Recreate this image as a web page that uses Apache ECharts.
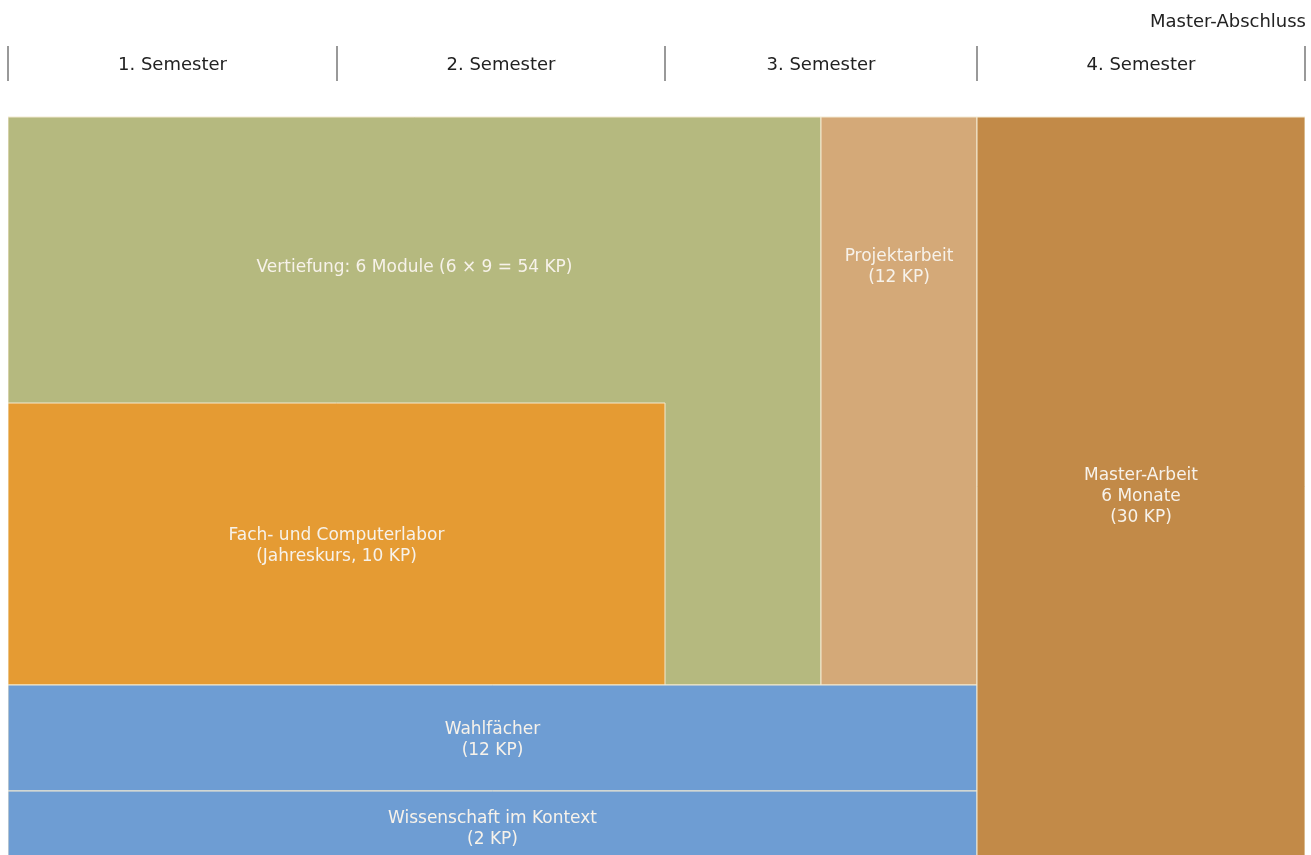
<!DOCTYPE html>
<html>
<head>
<meta charset="utf-8">
<title>Master Studienplan</title>
<script src="https://cdn.jsdelivr.net/npm/echarts@6/dist/echarts.min.js"></script>
<style>
  html, body { margin: 0; padding: 0; background: #fff; }
  #main { width: 1311px; height: 855px; }
</style>
</head>
<body>
<div id="main"></div>
<script>
// Semester (Kopfzeile)
var semesterNames = ['1. Semester', '2. Semester', '3. Semester', '4. Semester'];
var semesterEdges = [0, 329, 657, 969, 1297];
var endLabel = 'Master-Abschluss';

// Bloecke
var blockNames = [
  'Vertiefung: 6 Module (6 × 9 = 54 KP)',
  'Fach- und Computerlabor\n(Jahreskurs, 10 KP)',
  'Projektarbeit\n(12 KP)',
  'Wahlfächer\n(12 KP)',
  'Wissenschaft im Kontext\n(2 KP)',
  'Master-Arbeit\n6 Monate\n(30 KP)'
];
var blockX0 = [0, 0, 813, 0, 0, 969];
var blockX1 = [813, 657, 969, 969, 969, 1297];
var blockY0 = [0, 286, 0, 568, 674, 0];
var blockY1 = [568, 568, 568, 674, 755, 755];
var blockLabelY = [151, 429, 150, 623, 712, 380];
var blockColors = ['#b5b97f', '#e59b33', '#d4a978', '#6e9dd3', '#6e9dd3', '#c28a48'];

var FONT = '"DejaVu Sans", "Open Sans", sans-serif';

var myChart = echarts.init(document.getElementById('main'));

var blockData = [];
for (var i = 0; i < blockNames.length; i++) {
  blockData.push([blockX0[i], blockX1[i], blockY0[i], blockY1[i], blockLabelY[i], i]);
}

var edgeData = semesterEdges.map(function (x) { return [x]; });
var semData = semesterNames.map(function (n, i) {
  return [(semesterEdges[i] + semesterEdges[i + 1]) / 2, i];
});

var option = {
  animation: false,
  grid: { left: 8, right: 6, top: 0, bottom: 0 },
  xAxis: { type: 'value', min: 0, max: 1297, show: false },
  yAxis: { type: 'value', inverse: true, min: -117, max: 738, show: false },
  series: [
    {
      type: 'custom',
      clip: true,
      data: blockData,
      renderItem: function (params, api) {
        var idx = api.value(5);
        var p0 = api.coord([api.value(0), api.value(2)]);
        var p1 = api.coord([api.value(1), api.value(3)]);
        var pl = api.coord([(api.value(0) + api.value(1)) / 2, api.value(4)]);
        return {
          type: 'group',
          children: [
            {
              type: 'rect',
              shape: { x: p0[0], y: p0[1], width: p1[0] - p0[0], height: p1[1] - p0[1] },
              style: { fill: blockColors[idx], stroke: '#f3ead2', lineWidth: 1 }
            },
            {
              type: 'text',
              style: {
                text: blockNames[idx],
                x: pl[0], y: pl[1],
                align: 'center', verticalAlign: 'middle',
                fill: '#f7f2ea',
                fontSize: 17, fontFamily: FONT,
                lineHeight: 21
              }
            }
          ]
        };
      }
    },
    {
      type: 'custom',
      data: edgeData,
      renderItem: function (params, api) {
        var a = api.coord([api.value(0), -71]);
        var b = api.coord([api.value(0), -36]);
        return {
          type: 'line',
          shape: { x1: a[0], y1: a[1], x2: b[0], y2: b[1] },
          style: { stroke: '#555', lineWidth: 1.2 }
        };
      }
    },
    {
      type: 'custom',
      data: semData,
      renderItem: function (params, api) {
        var p = api.coord([api.value(0), -52]);
        var children = [{
          type: 'text',
          style: {
            text: semesterNames[api.value(1)],
            x: p[0], y: p[1],
            align: 'center', verticalAlign: 'middle',
            fill: '#222', fontSize: 18, fontFamily: FONT
          }
        }];
        if (params.dataIndex === semesterNames.length - 1) {
          var q = api.coord([semesterEdges[semesterEdges.length - 1], -95]);
          children.push({
            type: 'text',
            style: {
              text: endLabel,
              x: q[0] + 1, y: q[1],
              align: 'right', verticalAlign: 'middle',
              fill: '#222', fontSize: 18, fontFamily: FONT
            }
          });
        }
        return { type: 'group', children: children };
      }
    }
  ]
};
myChart.setOption(option);
</script>
</body>
</html>
